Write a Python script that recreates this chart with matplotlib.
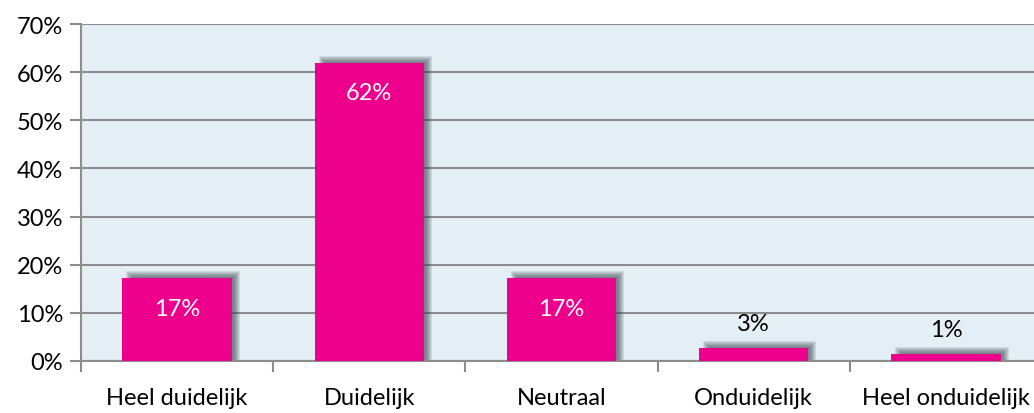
import matplotlib
matplotlib.use("Agg")
import matplotlib.pyplot as plt
from matplotlib.patches import Rectangle

categories = ["Heel duidelijk", "Duidelijk", "Neutraal", "Onduidelijk", "Heel onduidelijk"]
values = [17.2, 62.0, 17.2, 2.7, 1.4]
labels = ["17%", "62%", "17%", "3%", "1%"]
yticks = [0, 10, 20, 30, 40, 50, 60, 70]

plt.rcParams['font.family'] = ['Lato', 'DejaVu Sans']

W, H = 1034, 414
fig = plt.figure(figsize=(W/100, H/100), dpi=100)
left, right, top, bottom = 81, 1042, 25, 362
ax = fig.add_axes([left/W, 1-bottom/H, (right-left)/W, (bottom-top)/H])
ax.set_facecolor('#E4EFF5')
ax.set_xlim(0, 5)
ax.set_ylim(0, 70)

px_x = 5 / (right - left)
px_y = 70 / (bottom - top)

bar_w = 0.57
xs = [i + 0.5 for i in range(len(categories))]
# blurred shadow (offset right / up)
for b in range(6, -1, -1):
    for x, v in zip(xs, values):
        x0 = x - bar_w/2 + 10*px_x - b*px_x
        x1 = x + bar_w/2 + 2*px_x + b*px_x
        h = v + 1*px_y + b*px_y
        ax.add_patch(Rectangle((x0, 0), x1 - x0, h, facecolor='#3C4650', alpha=0.13,
                               edgecolor='none', zorder=2))
ax.bar(xs, values, width=bar_w, color='#EC008C', zorder=3)

for x, v, lab in zip(xs, values, labels):
    if v > 10:
        ax.text(x, v - 30*px_y, lab, ha='center', va='center', color='white', fontsize=17, zorder=4)
    else:
        ax.text(x, v + 25*px_y, lab, ha='center', va='center', color='black', fontsize=17, zorder=4)

ax.set_yticks(yticks)
ax.set_yticklabels([f"{t}%" for t in yticks], fontsize=17)
ax.yaxis.grid(True, color='#8C8C8C', linewidth=1.5, zorder=1)
ax.set_axisbelow(True)
ax.set_xticks(range(0, 6))
ax.set_xticklabels([])
ax.set_xticks(xs, minor=True)
ax.set_xticklabels(categories, minor=True, fontsize=17)
ax.tick_params(axis='x', which='minor', length=0, pad=19)
ax.tick_params(axis='x', which='major', length=8, width=1.5, color='#8C8C8C')
ax.tick_params(axis='y', length=8, width=1.5, color='#8C8C8C', pad=5)
for s in ['top', 'right']:
    ax.spines[s].set_visible(False)
ax.spines['left'].set_color('#8C8C8C')
ax.spines['left'].set_linewidth(1.5)
ax.spines['bottom'].set_color('#8C8C8C')
ax.spines['bottom'].set_linewidth(1.5)

fig.savefig('out.png', dpi=100)
